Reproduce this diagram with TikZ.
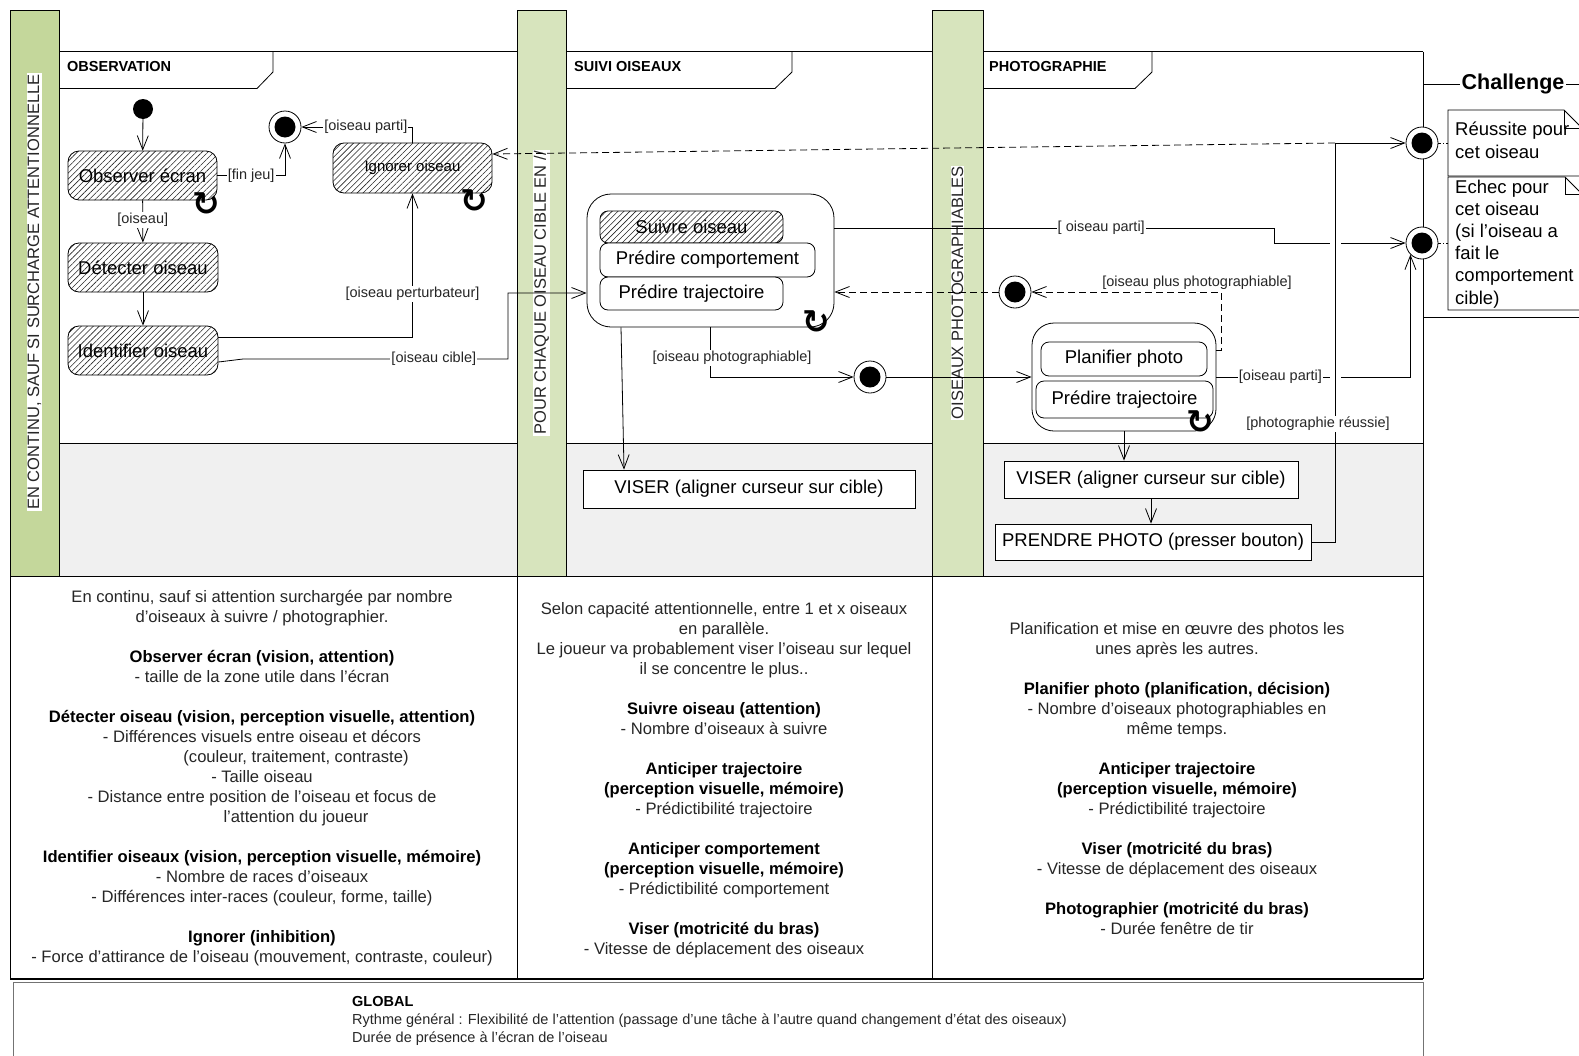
\documentclass[tikz,border=0pt]{standalone}
\usepackage{fontspec}
\setmainfont{Liberation Sans}
\newfontfamily\symfont{DejaVu Sans}
\usetikzlibrary{arrows.meta,patterns.meta,calc}
\definecolor{barA}{HTML}{C4D79B}
\definecolor{barB}{HTML}{D7E4BD}
\definecolor{laneg}{HTML}{F0F0F0}
\definecolor{txt}{HTML}{262626}
\newcommand{\fsz}[2]{\fontsize{#1}{#2}\selectfont}
\newcommand{\bt}[1]{\textbf{\textcolor{black}{#1}}}
\tikzset{
  ln/.style={line width=0.8pt},
  arr/.style={line width=0.8pt,-{Straight Barb[length=14pt,width=11pt,line width=0.8pt]}},
  dsh/.style={dash pattern=on 7pt off 4pt},
  lab/.style={fill=white,inner sep=1pt,font=\fsz{14.5}{16},text=txt},
  labnf/.style={inner sep=1pt,font=\fsz{14.5}{16},text=txt},
  act/.style={draw,line width=0.8pt,rounded corners=11pt,inner sep=0pt,font=\fsz{18.5}{20}},
  hatched/.style={act,pattern={Lines[angle=45,distance=4.2pt,line width=0.6pt]},pattern color=black!85},
  comp/.style={draw,line width=0.8pt,rounded corners=24pt,fill=white},
  rect/.style={draw,line width=0.8pt,fill=white,inner sep=0pt,font=\fsz{18.5}{20}},
  initn/.style={circle,fill=black,minimum size=20pt,inner sep=0pt},
  finn/.style={circle,draw,line width=0.8pt,fill=white,minimum size=32pt,inner sep=0pt,
     path picture={\fill[black] (path picture bounding box.center) circle[radius=10.5pt];}},
  loopsym/.style={font=\symfont\bfseries\fsz{33}{33},inner sep=0pt},
  vlab/.style={rotate=90,fill=white,inner sep=1pt,font=\fsz{16.5}{18},text=txt},
  hdr/.style={anchor=west,inner sep=0pt,font=\bfseries\fsz{14.5}{16}},
  btext/.style={anchor=north,align=center,inner sep=0pt,font=\fsz{16.6}{20},text=txt},
  notetxt/.style={anchor=north west,align=left,inner sep=0pt,font=\fsz{18.5}{22.2}},
}
\begin{document}
\begin{tikzpicture}[x=1pt,y=-1pt]
\fill[white] (0,0) rectangle (1579,1055);
\useasboundingbox (0,0) rectangle (1579,1055);
% ---------- frame ----------
\fill[laneg] (59,443) rectangle (1423,576);
\draw[ln] (59,51.5) -- (1423,51.5);
\draw[ln] (59,443) -- (1423,443);
\draw[ln] (1423,51.5) -- (1423,979);
\draw[ln] (10,576) -- (1423,576);
\draw[ln] (10,10) -- (10,979);
\draw[ln] (517,576) -- (517,979);
\draw[ln] (932,576) -- (932,979);
\draw[line width=1.3pt] (10,979) -- (1423,979);
\draw[line width=0.8pt,black!55] (13,1060) -- (13,982) -- (1423,982) -- (1423,1060);
% ---------- bars ----------
\draw[ln,fill=barA] (10,10) rectangle (59,576);
\draw[ln,fill=barB] (517,10) rectangle (566,576);
\draw[ln,fill=barB] (932,10) rectangle (983,576);
\node[vlab] (lbl1) at (34.5,292) {EN CONTINU, SAUF SI SURCHARGE ATTENTIONNELLE};
\node[vlab] (lbl2) at (541.5,293) {POUR CHAQUE OISEAU CIBLE EN //};
\node[vlab] (lbl3) at (957.5,293) {OISEAUX PHOTOGRAPHIABLES};
% ---------- lane headers ----------
\draw[ln] (59,88.5) -- (257,88.5) -- (273,72) -- (273,51.5);
\draw[ln] (566,88.5) -- (775,88.5) -- (792,72) -- (792,51.5);
\draw[ln] (983,88.5) -- (1135,88.5) -- (1152,72) -- (1152,51.5);
\node[hdr] (h1) at (67,67) {OBSERVATION};
\node[hdr] (h2) at (574,67) {SUIVI OISEAUX};
\node[hdr] (h3) at (989,67) {PHOTOGRAPHIE};
% ---------- challenge ----------
\draw[ln] (1423,84) -- (1579,84);
\node[fill=white,inner sep=2pt,font=\bfseries\fsz{21.5}{24}] (chal) at (1513,84) {Challenge};
\draw[ln] (1423,317) -- (1579,317);
\draw[ln,fill=white] (1448,176) -- (1448,110) -- (1564,110) -- (1582,128) -- (1582,176) -- cycle;
\draw[ln] (1564,110) -- (1564,128) -- (1582,128);
\draw[ln,fill=white] (1448,310) -- (1448,177) -- (1565,177) -- (1582,194) -- (1582,310) -- cycle;
\draw[ln] (1565,177) -- (1565,194) -- (1582,194);
\node[notetxt] (nreu) at (1455,122) {Réussite pour\\cet oiseau};
\node[notetxt] (nech) at (1455,179.5) {Echec pour\\cet oiseau\\(si l’oiseau a\\fait le\\comportement\\cible)};
\coordinate (nR) at (1448,143);
\coordinate (nE) at (1448,243);
% ---------- observation lane ----------
\node[initn] (init) at (143,109) {};
\node[finn] (fin1) at (285,127) {};
\node[hatched,minimum width=149pt,minimum height=49pt] (obs) at (142.5,175.5) {Observer écran};
\node[hatched,minimum width=150pt,minimum height=49pt] (det) at (143,267.5) {Détecter oiseau};
\node[hatched,minimum width=150pt,minimum height=49pt] (idf) at (143,350.5) {Identifier oiseau};
\node[hatched,minimum width=159pt,minimum height=50pt,font=\fsz{15}{17}] (ign) at (412.5,168) {Ignorer oiseau};
\node[loopsym] (lp1) at (206,204) {↻};
\node[loopsym] (lp2) at (474,201) {↻};
% ---------- suivi lane ----------
\node[comp,minimum width=247pt,minimum height=133pt] (c1) at (710.5,260.5) {};
\node[hatched,rounded corners=8pt,minimum width=183pt,minimum height=32pt] (suiv) at (691.5,227) {Suivre oiseau};
\node[act,fill=white,rounded corners=8pt,minimum width=215pt,minimum height=34pt] (pcomp) at (707.5,260) {Prédire comportement};
\node[act,fill=white,rounded corners=8pt,minimum width=183pt,minimum height=33pt] (ptr1) at (691.5,293.5) {Prédire trajectoire};
\node[loopsym] (lp3) at (816,322) {↻};
\node[finn] (fin2) at (870,377) {};
\node[rect,minimum width=332pt,minimum height=38pt] (v1) at (749,489) {VISER (aligner curseur sur cible)};
% ---------- photo lane ----------
\node[finn] (fin3) at (1015,292) {};
\node[comp,rounded corners=22pt,minimum width=184pt,minimum height=108pt] (c2) at (1124,377) {};
\node[act,fill=white,rounded corners=8pt,minimum width=166pt,minimum height=34pt] (plan) at (1124,359) {Planifier photo};
\node[act,fill=white,rounded corners=8pt,minimum width=177pt,minimum height=37pt] (ptr2) at (1124.5,399.5) {Prédire trajectoire};
\node[loopsym] (lp4) at (1200,422) {↻};
\node[rect,minimum width=294pt,minimum height=37pt] (v2) at (1151,479.5) {VISER (aligner curseur sur cible)};
\node[rect,minimum width=316pt,minimum height=36pt] (pp) at (1153,542) {PRENDRE PHOTO (presser bouton)};
\node[finn] (finR) at (1422,143) {};
\node[finn] (finE) at (1422,243) {};
\coordinate (jR) at (1335,143);
% ---------- connectors ----------
\draw[arr] (init) -- (obs);
\draw[arr] (obs.east) -| node[lab,pos=0.25]{[fin jeu]} (fin1.south);
\draw[arr] (obs) -- node[lab,pos=0.47]{[oiseau]} (det);
\draw[arr] (det) -- (idf);
\draw[arr] (idf.east |- 0,337) -| node[lab,pos=0.65]{[oiseau perturbateur]} (ign.south);
\draw[arr] (ign.north) |- node[lab,pos=0.71]{[oiseau parti]} (fin1.east);
\draw[arr] (idf.east |- 0,362) -- (243,359) -- node[lab,pos=0.72]{[oiseau cible]} (508,359) |- (c1.west |- 0,293);
\draw[arr,dsh] (jR) -- (ign.east |- 0,154);
\draw[arr] (c1.east |- 0,228) -- node[lab,pos=0.607]{[ oiseau parti]} (1274,228) |- (finE.west);
\draw[arr] (c1.south -| 710,0) |- (fin2.west);
\node[lab] (lphot) at (732,358) {[oiseau photographiable]};
\draw[arr] (c1.south -| 621,0) -- (v1.north -| 624,0);
\draw[arr] (fin2) -- (c2);
\draw[arr,dsh] (c2.east |- 0,350) -- (1221,350) |- (fin3.east);
\node[labnf] (lplus) at (1197,283) {[oiseau plus photographiable]};
\draw[arr,dsh] (fin3) -- (c1.east |- fin3);
\draw[arr] (c2.east) -- node[lab,pos=0.33]{[oiseau parti]} (finE.south west |- c2.east) -- (finE.south west);
\draw[white,line width=3pt] (1330,243) -- (1341,243);
\draw[white,line width=3pt] (1330,377) -- (1341,377);
\draw[arr] (c2.south -| 1124,0) -- (v2.north -| 1124,0);
\draw[arr] (v2.south -| 1151,0) -- (pp.north -| 1151,0);
\draw[arr] (pp.east) -| (jR) -- (finR);
\node[lab] (lreus) at (1318,424) {[photographie réussie]};
\draw[line width=0.6pt,dash pattern=on 3pt off 2pt on 1pt off 2pt] (finR.east) -- (nR);
\draw[line width=0.6pt,dash pattern=on 3pt off 2pt on 1pt off 2pt] (finE.east) -- (nE);
% ---------- bottom texts ----------
\node[btext] (t1) at (262,590) {En continu, sauf si attention surchargée par nombre\\
d’oiseaux à suivre / photographier.\\[20pt]
\bt{Observer écran (vision, attention)}\\
- taille de la zone utile dans l’écran\\[20pt]
\bt{Détecter oiseau (vision, perception visuelle, attention)}\\
- Différences visuels entre oiseau et décors\\
\hspace*{68pt}(couleur, traitement, contraste)\\
- Taille oiseau\\
- Distance entre position de l’oiseau et focus de\\
\hspace*{68pt}l’attention du joueur\\[20pt]
\bt{Identifier oiseaux (vision, perception visuelle, mémoire)}\\
- Nombre de races d’oiseaux\\
- Différences inter-races (couleur, forme, taille)\\[20pt]
\bt{Ignorer (inhibition)}\\
- Force d’attirance de l’oiseau (mouvement, contraste, couleur)};
\node[btext] (t2) at (724,602) {Selon capacité attentionnelle, entre 1 et x oiseaux\\
en parallèle.\\
Le joueur va probablement viser l’oiseau sur lequel\\
il se concentre le plus..\\[20pt]
\bt{Suivre oiseau (attention)}\\
- Nombre d’oiseaux à suivre\\[20pt]
\bt{Anticiper trajectoire}\\
\bt{(perception visuelle, mémoire)}\\
- Prédictibilité trajectoire\\[20pt]
\bt{Anticiper comportement}\\
\bt{(perception visuelle, mémoire)}\\
- Prédictibilité comportement\\[20pt]
\bt{Viser (motricité du bras)}\\
- Vitesse de déplacement des oiseaux};
\node[btext] (t3) at (1177,622) {Planification et mise en œuvre des photos les\\
unes après les autres.\\[20pt]
\bt{Planifier photo (planification, décision)}\\
- Nombre d’oiseaux photographiables en\\
même temps.\\[20pt]
\bt{Anticiper trajectoire}\\
\bt{(perception visuelle, mémoire)}\\
- Prédictibilité trajectoire\\[20pt]
\bt{Viser (motricité du bras)}\\
- Vitesse de déplacement des oiseaux\\[20pt]
\bt{Photographier (motricité du bras)}\\
- Durée fenêtre de tir};
\node[anchor=north west,align=left,inner sep=0pt,font=\fsz{14.5}{18},text=txt] (glob) at (352,996) {\bt{GLOBAL}\\
Rythme général : Flexibilité de l’attention (passage d’une tâche à l’autre quand changement d’état des oiseaux)\\
Durée de présence à l’écran de l’oiseau};
\end{tikzpicture}
\end{document}
